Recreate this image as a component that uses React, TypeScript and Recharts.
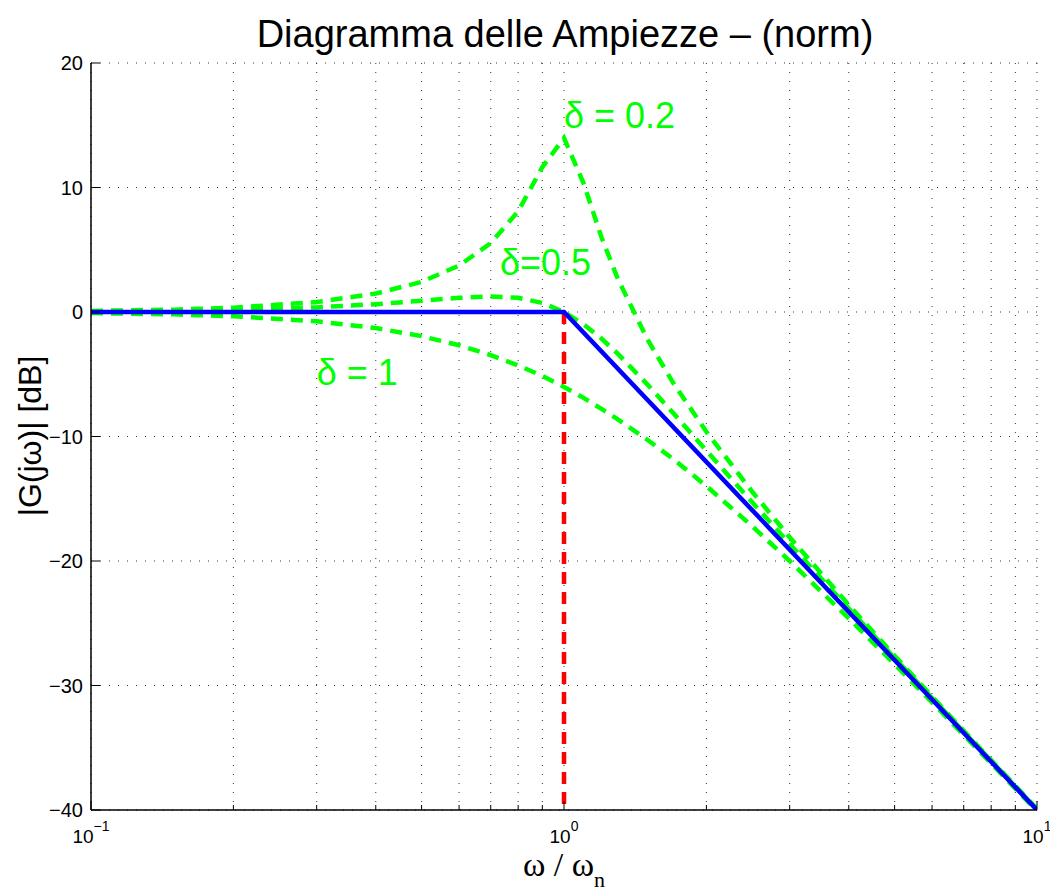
import { LineChart, Line, XAxis, YAxis, CartesianGrid, ReferenceDot } from "recharts";

// normalised frequency w / wn
const FREQ = [0.1, 0.15, 0.2, 0.3, 0.4, 0.5, 0.6, 0.7, 0.8, 0.9, 1, 1.1, 1.2, 1.3, 1.5, 1.7, 2, 2.5, 3, 4, 5, 6, 7, 8, 10];

// magnitudes in dB
const MAG_LOW_DAMP = [0.09, 0.19, 0.35, 0.8, 1.48, 2.42, 3.73, 5.53, 8.09, 11.64, 13.98, 10.34, 6.0, 2.65, -2.18, -5.67, -9.62, -14.44, -18.09, -23.53, -27.61, -30.89, -33.63, -35.99, -39.91];
const MAG_MID_DAMP = [0.04, 0.1, 0.17, 0.37, 0.63, 0.9, 1.14, 1.25, 1.14, 0.73, 0, -0.98, -2.13, -3.36, -5.81, -8.1, -11.14, -15.29, -18.63, -23.82, -27.79, -31.01, -33.72, -36.06, -39.96];
const MAG_HIGH_DAMP = [-0.09, -0.19, -0.34, -0.75, -1.29, -1.94, -2.67, -3.46, -4.3, -5.13, -6.02, -6.9, -7.78, -8.63, -10.26, -11.8, -13.98, -17.21, -20.0, -24.61, -28.3, -31.36, -33.98, -36.26, -40.09];

// asymptotic approximation
const ASYM_FREQ = [0.1, 1, 10];
const ASYM_DB = [0, 0, -40];

// marker at the natural frequency
const WN_FREQ = [1, 1];
const WN_DB = [0, -40];

const X_TICKS = [0.1, 0.2, 0.3, 0.4, 0.5, 0.6, 0.7, 0.8, 0.9, 1, 2, 3, 4, 5, 6, 7, 8, 9, 10];
const X_MAJOR = [0.1, 1, 10];
const X_EXP = ["\u22121", "0", "1"];
const Y_TICKS = [-40, -30, -20, -10, 0, 10, 20];

const toRows = (w: number[], db: number[]) => w.map((v, i) => ({ w: v, db: db[i] }));

const SANS = "'Liberation Sans', Arial, Helvetica, sans-serif";
const SERIF = "'Liberation Serif', 'Times New Roman', serif";
const GREEN = "#00ff00";

const majorIndex = (v: number) => X_MAJOR.findIndex((m) => Math.abs(m - v) < 1e-9);

function BottomTick(props: any) {
  const { x, y, payload } = props;
  const idx = majorIndex(payload.value);
  return (
    <g>
      <line x1={x} x2={x} y1={y} y2={y - (idx >= 0 ? 9 : 5)} stroke="#000" strokeWidth={1} />
      {idx >= 0 && (
        <text x={x} y={y + 33} textAnchor="middle" fontSize={19} fontFamily={SANS} fill="#000">
          <tspan>10</tspan>
          <tspan dy={-12} fontSize={14}>{X_EXP[idx]}</tspan>
        </text>
      )}
    </g>
  );
}

function TopTick(props: any) {
  const { x, y, payload } = props;
  const major = majorIndex(payload.value) >= 0;
  return <line x1={x} x2={x} y1={y} y2={y + (major ? 9 : 5)} stroke="#000" strokeWidth={1} />;
}

function LeftTick(props: any) {
  const { x, y, payload } = props;
  const v = payload.value as number;
  const label = v < 0 ? `\u2212${-v}` : `${v}`;
  return (
    <g>
      <line x1={x} x2={x + 9} y1={y} y2={y} stroke="#000" strokeWidth={1} />
      <text x={x - 8} y={y} dy="0.36em" textAnchor="end" fontSize={20} fontFamily={SANS} fill="#000">
        {label}
      </text>
    </g>
  );
}

function RightTick(props: any) {
  const { x, y } = props;
  return <line x1={x} x2={x - 9} y1={y} y2={y} stroke="#000" strokeWidth={1} />;
}

const annotation = (text: string) => (p: any) => (
  <text x={p.cx} y={p.cy} fontSize={36} fontFamily={SANS} fill={GREEN}>
    {text}
  </text>
);

export default function App() {
  const dashed = { stroke: GREEN, strokeWidth: 4.5, strokeDasharray: "12 8", dot: false, isAnimationActive: false };

  return (
    <div style={{ position: "absolute", left: 0, top: 0, width: 1050, height: 891, background: "#fff" }}>
      <LineChart width={1050} height={891} margin={{ top: 63, right: 13, left: 0, bottom: 0 }}>
        <CartesianGrid stroke="#333" strokeDasharray="1 8" strokeWidth={1} />
        <XAxis
          xAxisId={0}
          dataKey="w"
          type="number"
          scale="log"
          domain={[0.1, 10]}
          ticks={X_TICKS}
          allowDataOverflow
          height={81}
          tickSize={0}
          tickMargin={0}
          tickLine={false}
          axisLine={{ stroke: "#000", strokeWidth: 1.5 }}
          tick={<BottomTick />}
          interval={0}
        />
        <XAxis
          xAxisId="top"
          orientation="top"
          dataKey="w"
          type="number"
          scale="log"
          domain={[0.1, 10]}
          ticks={X_TICKS}
          allowDataOverflow
          height={0}
          tickSize={0}
          tickMargin={0}
          tickLine={false}
          axisLine={{ stroke: "#000", strokeWidth: 1.5 }}
          tick={<TopTick />}
          interval={0}
        />
        <YAxis
          yAxisId={0}
          type="number"
          domain={[-40, 20]}
          ticks={Y_TICKS}
          allowDataOverflow
          width={91}
          tickSize={0}
          tickMargin={0}
          tickLine={false}
          axisLine={{ stroke: "#000", strokeWidth: 1.5 }}
          tick={<LeftTick />}
          interval={0}
        />
        <YAxis
          yAxisId="right"
          orientation="right"
          type="number"
          domain={[-40, 20]}
          ticks={Y_TICKS}
          allowDataOverflow
          width={0}
          tickSize={0}
          tickMargin={0}
          tickLine={false}
          axisLine={{ stroke: "#000", strokeWidth: 1.5 }}
          tick={<RightTick />}
          interval={0}
        />

        <Line data={toRows(FREQ, MAG_LOW_DAMP)} dataKey="db" {...dashed} />
        <Line data={toRows(FREQ, MAG_MID_DAMP)} dataKey="db" {...dashed} />
        <Line data={toRows(FREQ, MAG_HIGH_DAMP)} dataKey="db" {...dashed} />
        <Line
          data={toRows(WN_FREQ, WN_DB)}
          dataKey="db"
          stroke="#ff0000"
          strokeWidth={4.5}
          strokeDasharray="12 8"
          dot={false}
          isAnimationActive={false}
        />
        <Line
          data={toRows(ASYM_FREQ, ASYM_DB)}
          dataKey="db"
          stroke="#0000ff"
          strokeWidth={4.5}
          dot={false}
          isAnimationActive={false}
        />

        <ReferenceDot x={1} y={14.8} ifOverflow="visible" shape={annotation("\u03b4 = 0.2")} />
        <ReferenceDot x={0.732} y={3.0} ifOverflow="visible" shape={annotation("\u03b4=0.5")} />
        <ReferenceDot x={0.3} y={-5.9} ifOverflow="visible" shape={annotation("\u03b4 = 1")} />

        <text x={565} y={47} textAnchor="middle" fontSize={38} fontFamily={SANS} fill="#000">
          Diagramma delle Ampiezze {"\u2013"} (norm)
        </text>
        <text
          x={41}
          y={436}
          transform="rotate(-90 41 436)"
          textAnchor="middle"
          fontSize={32}
          fontFamily={SANS}
          fill="#000"
        >
          |G(j{"\u03c9"})| [dB]
        </text>
        <text x={564} y={876} textAnchor="middle" fontSize={34} fontFamily={SERIF} fill="#000">
          {"\u03c9 / \u03c9"}
          <tspan dy={11} fontSize={22}>n</tspan>
        </text>
      </LineChart>
    </div>
  );
}
